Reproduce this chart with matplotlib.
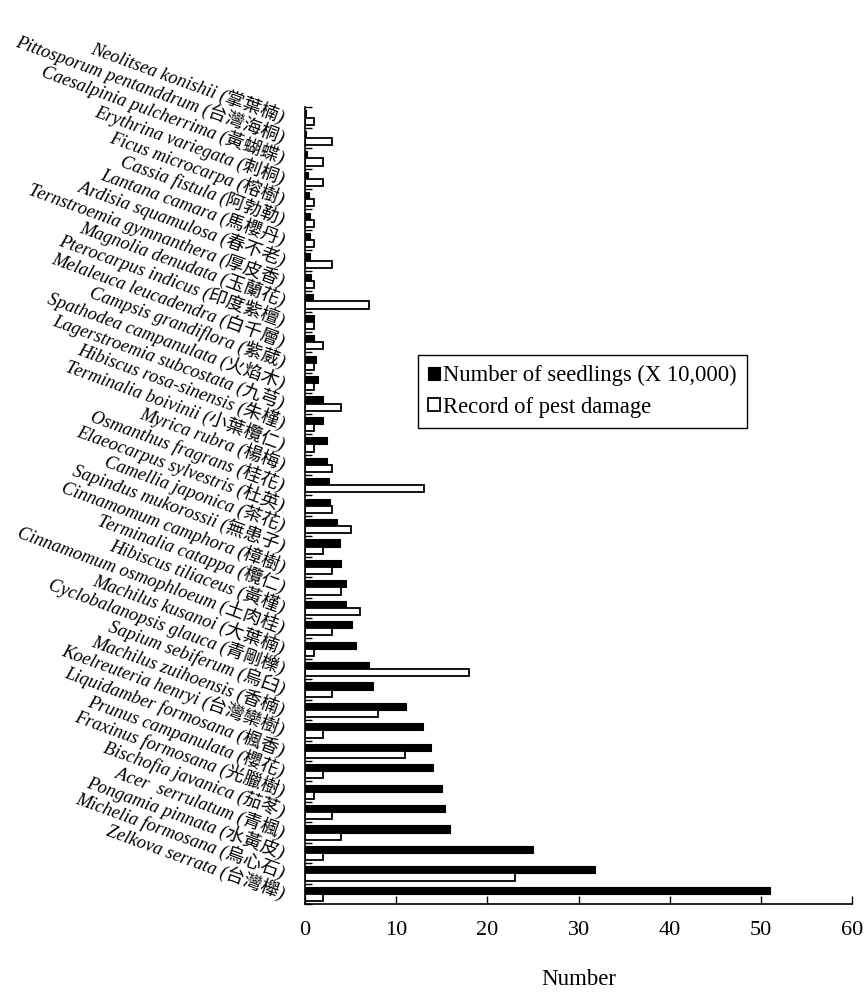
import matplotlib
matplotlib.use('Agg')
import matplotlib.pyplot as plt
import numpy as np

species = [
    'Neolitsea konishii (掌葉楠)',
    'Pittosporum pentanddrum (台灣海桐)',
    'Caesalpinia pulcherrima (黃蝴蝶)',
    'Erythrina variegata (刺桐)',
    'Ficus microcarpa (榕樹)',
    'Cassia fistula (阿勃勒)',
    'Lantana camara (馬櫻丹)',
    'Ardisia squamulosa (春不老)',
    'Ternstroemia gymnanthera (厚皮香)',
    'Magnolia denudata (玉蘭花)',
    'Pterocarpus indicus (印度紫檀)',
    'Melaleuca leucadendra (白千層)',
    'Campsis grandiflora (紫葳)',
    'Spathodea campanulata (火焰木)',
    'Lagerstroemia subcostata (九芎)',
    'Hibiscus rosa-sinensis (朱槿)',
    'Terminalia boivinii (小葉欖仁)',
    'Myrica rubra (楊梅)',
    'Osmanthus fragrans (桂花)',
    'Elaeocarpus sylvestris (杜英)',
    'Camellia japonica (茶花)',
    'Sapindus mukorossii (無患子)',
    'Cinnamomum camphora (樟樹)',
    'Terminalia catappa (欖仁)',
    'Hibiscus tiliaceus (黃槿)',
    'Cinnamomum osmophloeum (土肉桂)',
    'Machilus kusanoi (大葉楠)',
    'Cyclobalanopsis glauca (青剛櫟)',
    'Sapium sebiferum (烏臼)',
    'Machilus zuihoensis (香楠)',
    'Koelreuteria henryi (台灣欒樹)',
    'Liquidamber formosana (楓香)',
    'Prunus campanulata (櫻花)',
    'Fraxinus formosana (光臘樹)',
    'Bischofia javanica (茄苳)',
    'Acer  serrulatum (青楓)',
    'Pongamia pinnata (水黃皮)',
    'Michelia formosana (烏心石)',
    'Zelkova serrata (台灣櫸)',
]

seedlings = [0.1, 0.15, 0.25, 0.3, 0.45, 0.5, 0.55, 0.6, 0.7, 0.9, 0.95, 1.0, 1.25,
             1.45, 1.95, 2.0, 2.45, 2.45, 2.6, 2.75, 3.55, 3.85, 3.95, 4.45, 4.45, 5.15,
             5.55, 7.0, 7.5, 11.1, 12.9, 13.8, 14.0, 15.0, 15.4, 15.9, 25.0, 31.8, 51.0]

pest = [1, 3, 2, 2, 1, 1, 1, 3, 1, 7, 1, 2, 1,
        1, 4, 1, 1, 3, 13, 3, 5, 2, 3, 4, 6, 3,
        1, 18, 3, 8, 2, 11, 2, 1, 3, 4, 2, 23, 2]

serif = ['Liberation Serif', 'Noto Sans CJK TC']

fig = plt.figure(figsize=(8.65, 9.94), dpi=100)
ax = fig.add_axes([0.3526, 0.0905, 0.6324, 0.8015])

y = np.arange(len(species))
h = 0.35
ax.barh(y - h / 2, seedlings, height=h, color='black', edgecolor='black',
        linewidth=0.8, label='Number of seedlings (X 10,000)')
ax.barh(y + h / 2, pest, height=h, color='white', edgecolor='black',
        linewidth=1.3, label='Record of pest damage')

ax.set_ylim(len(species) - 0.5, -0.5)
ax.set_xlim(0, 60)
ax.set_xticks(range(0, 61, 10))
ax.set_xticklabels([str(v) for v in range(0, 61, 10)], family=serif, fontsize=16)

ax.set_yticks(y)
ax.set_yticks(np.arange(-0.5, len(species), 1), minor=True)
ax.set_yticklabels(species, rotation=-20, ha='right', va='center',
                   rotation_mode='anchor', family=serif, style='italic', fontsize=13.2)
ax.tick_params(axis='y', which='major', length=0, pad=15)
ax.tick_params(axis='y', which='minor', direction='in', length=5, width=1)
ax.tick_params(axis='x', direction='in', length=6, width=1, pad=12)

for s in ['top', 'right']:
    ax.spines[s].set_visible(False)
for s in ['left', 'bottom']:
    ax.spines[s].set_linewidth(1.2)

ax.set_xlabel('Number', family=serif, fontsize=16.5, labelpad=21)

leg = ax.legend(loc='upper left', bbox_to_anchor=(0.2066, 0.689), borderaxespad=0,
                fancybox=False, edgecolor='black', framealpha=1,
                prop={'family': serif, 'size': 16.3}, handlelength=0.5,
                handleheight=0.5, handletextpad=0.15, labelspacing=0.45,
                borderpad=0.45)
leg.get_frame().set_linewidth(1.0)

plt.savefig('out.png', dpi=100)
